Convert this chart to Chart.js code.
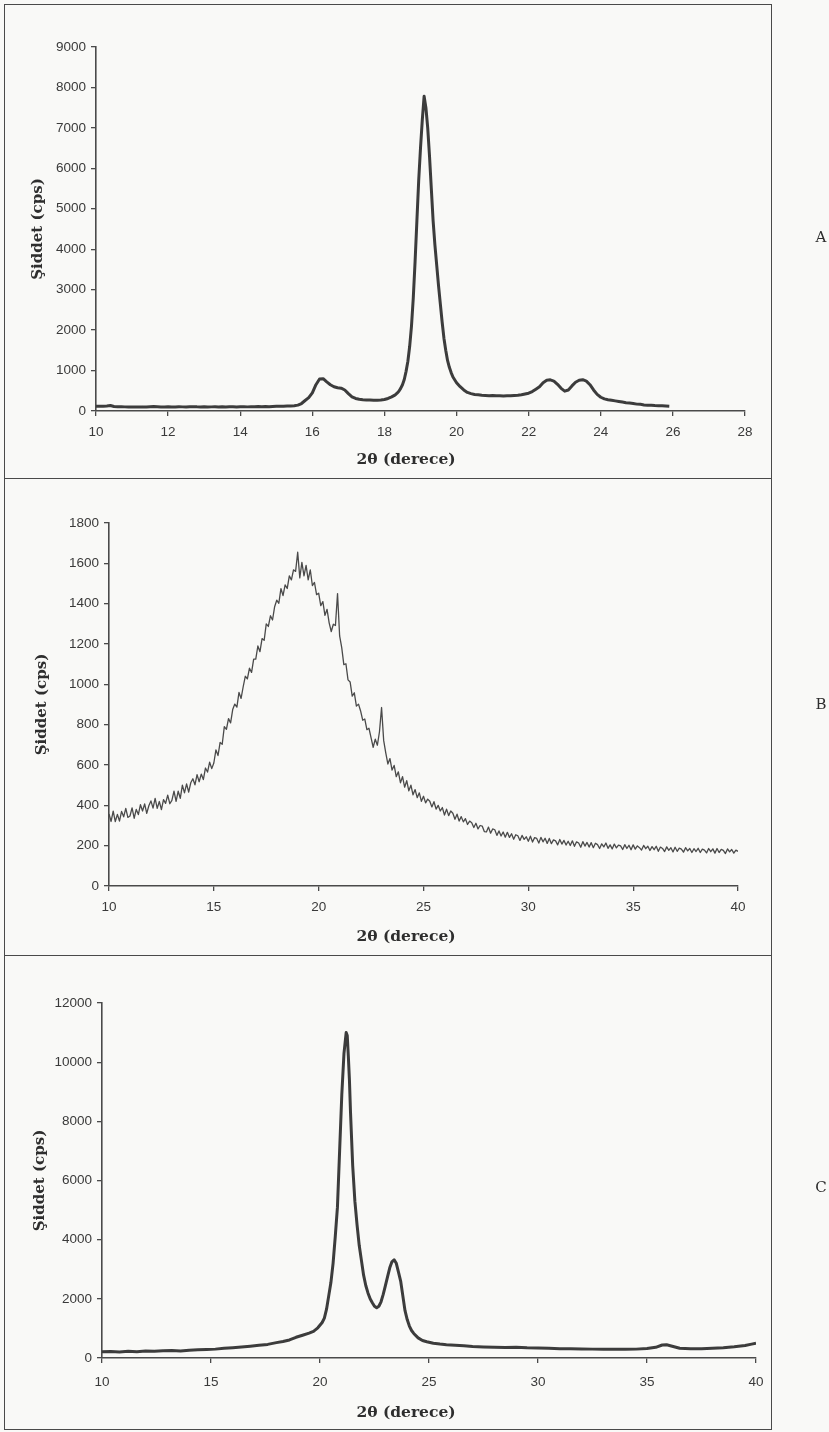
<!DOCTYPE html>
<html><head><meta charset="utf-8">
<script src="https://cdn.jsdelivr.net/npm/chart.js@4/dist/chart.umd.min.js"></script>
<style>
html,body{margin:0;padding:0;background:#f9f9f7;}
body{width:829px;height:1432px;position:relative;overflow:hidden;}
.box{position:absolute;border:1.6px solid #4a4a4a;box-sizing:border-box;}
canvas{position:absolute;left:0;}
</style></head><body>
<div class="box" style="left:4px;top:4px;width:768px;height:475px"></div>
<div class="box" style="left:4px;top:478px;width:768px;height:478px"></div>
<div class="box" style="left:4px;top:955px;width:768px;height:475px"></div>
<canvas id="cA" width="829" height="474" style="top:4px"></canvas>
<canvas id="cB" width="829" height="477" style="top:478px"></canvas>
<canvas id="cC" width="829" height="475" style="top:955px"></canvas>
<script>
// ---------- Panel A ----------
const thetaA = [10,10.1,10.2,10.3,10.4,10.5,10.6,10.7,10.8,10.9,
11,11.1,11.2,11.3,11.4,11.5,11.6,11.7,11.8,11.9,
12,12.1,12.2,12.3,12.4,12.5,12.6,12.7,12.8,12.9,
13,13.1,13.2,13.3,13.4,13.5,13.6,13.7,13.8,13.9,
14,14.1,14.2,14.3,14.4,14.5,14.6,14.7,14.8,14.9,
15,15.1,15.2,15.3,15.4,15.5,15.6,15.7,15.8,15.9,
16,16.1,16.2,16.3,16.4,16.5,16.6,16.7,16.8,16.9,
17,17.1,17.2,17.3,17.4,17.5,17.6,17.7,17.8,17.9,
18,18.1,18.2,18.3,18.35,18.4,18.45,18.5,18.55,18.6,18.65,18.7,18.75,18.8,18.85,18.9,18.95,
19,19.05,19.1,19.15,19.2,19.25,19.3,19.35,19.4,19.45,19.5,19.55,19.6,19.65,19.7,19.75,19.8,19.85,19.9,
20,20.1,20.2,20.3,20.4,20.5,20.6,20.7,20.8,20.9,
21,21.1,21.2,21.3,21.4,21.5,21.6,21.7,21.8,21.9,
22,22.1,22.2,22.3,22.4,22.5,22.6,22.7,22.8,22.9,
23,23.1,23.2,23.3,23.4,23.5,23.6,23.7,23.8,23.9,
24,24.1,24.2,24.3,24.4,24.5,24.6,24.7,24.8,24.9,
25,25.1,25.2,25.3,25.4,25.5,25.6,25.7,25.8,25.9];
const cpsA = [120,115,118,125,135,110,105,108,102,100,
98,100,97,102,99,105,110,104,98,101,
104,98,100,106,102,99,105,108,103,100,
104,99,102,107,101,104,98,103,106,100,
105,108,102,106,104,110,107,112,108,113,
115,118,120,122,125,130,145,185,260,330,
450,650,790,800,720,650,600,575,565,520,
430,350,310,290,280,275,270,265,268,272,
285,310,350,400,440,490,560,650,780,980,1230,1600,2100,2800,3700,4700,5700,
6500,7200,7780,7500,7000,6300,5500,4700,4100,3600,3100,2650,2200,1800,1500,1250,1080,950,840,
700,600,520,460,430,410,400,390,385,380,
382,375,378,372,380,376,385,390,400,420,
440,480,540,600,700,760,770,740,660,560,
490,520,620,710,760,775,740,650,520,410,
340,300,280,265,250,235,220,205,195,185,
170,165,150,145,140,135,132,128,125,120];
const xTicksA = [10,12,14,16,18,20,22,24,26,28];
const yTicksA = [0,1000,2000,3000,4000,5000,6000,7000,8000,9000];

// ---------- Panel B ----------
const thetaB = [10,10.1,10.2,10.3,10.4,10.5,10.6,10.7,10.8,10.9,
11,11.1,11.2,11.3,11.4,11.5,11.6,11.7,11.8,11.9,
12,12.1,12.2,12.3,12.4,12.5,12.6,12.7,12.8,12.9,
13,13.1,13.2,13.3,13.4,13.5,13.6,13.7,13.8,13.9,
14,14.1,14.2,14.3,14.4,14.5,14.6,14.7,14.8,14.9,
15,15.1,15.2,15.3,15.4,15.5,15.6,15.7,15.8,15.9,
16,16.1,16.2,16.3,16.4,16.5,16.6,16.7,16.8,16.9,
17,17.1,17.2,17.3,17.4,17.5,17.6,17.7,17.8,17.9,
18,18.1,18.2,18.3,18.4,18.5,18.6,18.7,18.8,18.9,
19,19.1,19.2,19.3,19.4,19.5,19.6,19.7,19.8,19.9,
20,20.1,20.2,20.3,20.4,20.5,20.6,20.7,20.8,20.9,
21,21.1,21.2,21.3,21.4,21.5,21.6,21.7,21.8,21.9,
22,22.1,22.2,22.3,22.4,22.5,22.6,22.7,22.8,22.9,
23,23.1,23.2,23.3,23.4,23.5,23.6,23.7,23.8,23.9,
24,24.1,24.2,24.3,24.4,24.5,24.6,24.7,24.8,24.9,
25,25.1,25.2,25.3,25.4,25.5,25.6,25.7,25.8,25.9,
26,26.1,26.2,26.3,26.4,26.5,26.6,26.7,26.8,26.9,
27,27.1,27.2,27.3,27.4,27.5,27.6,27.7,27.8,27.9,
28,28.1,28.2,28.3,28.4,28.5,28.6,28.7,28.8,28.9,
29,29.1,29.2,29.3,29.4,29.5,29.6,29.7,29.8,29.9,
30,30.1,30.2,30.3,30.4,30.5,30.6,30.7,30.8,30.9,
31,31.1,31.2,31.3,31.4,31.5,31.6,31.7,31.8,31.9,
32,32.1,32.2,32.3,32.4,32.5,32.6,32.7,32.8,32.9,
33,33.1,33.2,33.3,33.4,33.5,33.6,33.7,33.8,33.9,
34,34.1,34.2,34.3,34.4,34.5,34.6,34.7,34.8,34.9,
35,35.1,35.2,35.3,35.4,35.5,35.6,35.7,35.8,35.9,
36,36.1,36.2,36.3,36.4,36.5,36.6,36.7,36.8,36.9,
37,37.1,37.2,37.3,37.4,37.5,37.6,37.7,37.8,37.9,
38,38.1,38.2,38.3,38.4,38.5,38.6,38.7,38.8,38.9,
39,39.1,39.2,39.3,39.4,39.5,39.6,39.7,39.8,39.9,
40];
const cpsB = [357,320,371,319,355,322,370,343,385,340,
347,387,336,380,354,403,372,407,360,398,
422,386,434,385,419,379,428,410,451,408,
425,470,420,470,435,500,462,506,466,512,
532,502,552,517,555,528,585,565,614,582,
610,675,647,712,703,790,777,830,809,875,
902,887,960,930,988,1040,1027,1080,1059,1125,
1125,1190,1162,1227,1218,1300,1287,1340,1319,1385,
1417,1402,1475,1440,1493,1475,1538,1518,1568,1560,
1655,1528,1605,1538,1590,1518,1568,1490,1505,1445,
1452,1390,1410,1342,1372,1305,1262,1298,1292,1450,
1240,1182,1098,1102,1022,1012,942,958,892,902,
868,822,828,775,782,735,688,728,698,765,
885,722,660,605,632,575,598,542,566,512,
542,490,522,472,500,452,478,438,462,420,
445,412,431,420,392,418,381,400,372,389,
352,381,349,372,361,331,356,322,344,318,
334,305,322,314,290,311,283,300,297,270,
268,292,262,283,279,251,273,248,268,242,
266,241,259,232,254,249,226,251,231,244,
222,247,218,240,236,213,241,219,237,211,
236,210,229,224,204,231,208,226,203,222,
201,224,197,219,213,192,220,198,216,193,
215,190,212,205,186,209,194,213,187,204,
184,208,189,203,199,181,205,186,202,180,
204,183,199,190,178,201,185,197,176,195,
180,197,172,193,186,171,194,177,190,169,
192,172,188,183,168,190,174,186,166,185,
171,187,166,183,178,164,186,170,184,163,
186,166,182,177,161,184,169,181,163,178,
172];
const xTicksB = [10,15,20,25,30,35,40];
const yTicksB = [0,200,400,600,800,1000,1200,1400,1600,1800];

// ---------- Panel C ----------
const thetaC = [10,10.4,10.8,11.2,11.6,12,12.4,12.8,13.2,13.6,14,14.4,14.8,15.2,15.6,16,16.4,16.8,17.2,17.6,18,
18.3,18.6,18.9,19.2,19.5,19.7,19.9,20.1,
20.2,20.3,20.4,20.5,20.6,20.7,20.8,20.9,21,21.1,21.2,21.25,21.3,21.35,21.4,
21.5,21.6,21.7,21.8,21.9,22,22.1,22.2,22.3,22.4,22.5,22.6,22.7,22.8,22.9,
23,23.1,23.2,23.3,23.4,23.5,23.6,23.7,23.8,23.9,24,24.1,24.2,24.3,
24.5,24.7,24.9,25.2,25.5,25.8,26.2,26.6,
27,27.5,28,28.5,29,29.5,30,30.5,31,31.5,32,32.5,33,33.5,34,34.5,35,
35.4,35.7,35.9,36.2,36.5,37,37.5,38,38.5,39,39.5,39.8,40];
const cpsC = [210,220,205,225,215,235,225,245,250,240,265,275,290,300,330,350,375,400,430,460,520,
560,610,700,770,840,900,1020,1200,
1350,1650,2100,2550,3200,4100,5100,7000,8900,10300,11000,10900,10200,9400,8300,
6500,5300,4500,3800,3300,2800,2450,2200,2000,1870,1750,1700,1750,1900,2150,
2450,2750,3050,3250,3320,3200,2900,2600,2100,1600,1300,1080,930,830,
680,590,550,500,470,450,430,410,
390,375,365,355,360,345,340,330,315,310,305,300,300,295,295,300,320,
360,440,450,390,330,310,315,330,350,380,420,470,500];
const xTicksC = [10,15,20,25,30,35,40];
const yTicksC = [0,2000,4000,6000,8000,10000,12000];

const yTitle = 'Şiddet (cps)';
const xTitle = '2θ (derece)';
const panelLetters = ['A','B','C'];

// ---------- drawing ----------
function textPlugin(items){
  return {
    id:'panelText',
    afterDraw(chart){
      const ctx = chart.ctx;
      ctx.save();
      ctx.textAlign='center'; ctx.textBaseline='middle';
      for(const t of items){
        ctx.font=t.font; ctx.fillStyle=t.color;
        ctx.fillText(t.text,t.x,t.y);
      }
      ctx.restore();
    }
  };
}

function makeChart(id, theta, cps, xTicks, yTicks, L){
  const pts = theta.map((t,i)=>({x:t,y:cps[i]}));
  const axisColor = '#4a4a4a';
  const tickFont = {family:'"Liberation Sans", Arial, sans-serif', size:13.5};
  return new Chart(document.getElementById(id), {
    type:'line',
    data:{datasets:[{data:pts, borderColor:L.lineColor, borderWidth:L.lineWidth,
      pointRadius:0, tension:0, fill:false, borderJoinStyle:'round'}]},
    options:{
      responsive:false, animation:false, events:[],
      layout:{padding:{top:L.padTop,right:L.padRight,left:0,bottom:0}},
      plugins:{legend:{display:false}, tooltip:{enabled:false}},
      scales:{
        x:{type:'linear', min:xTicks[0], max:xTicks[xTicks.length-1],
          afterBuildTicks:s=>{s.ticks = xTicks.map(v=>({value:v}));},
          afterFit:s=>{s.height=L.xAxisH;},
          ticks:{font:tickFont, color:'#3a3a3a', padding:L.xPad, maxRotation:0, autoSkip:false, callback:v=>String(v)},
          grid:{display:true, drawOnChartArea:false, drawTicks:true, tickLength:5, color:axisColor, tickColor:axisColor, lineWidth:1.3},
          border:{display:true, color:axisColor, width:1.6}
        },
        y:{type:'linear', min:yTicks[0], max:yTicks[yTicks.length-1],
          afterBuildTicks:s=>{s.ticks = yTicks.map(v=>({value:v}));},
          afterFit:s=>{s.width=L.yAxisW;},
          ticks:{font:tickFont, color:'#3a3a3a', padding:5, autoSkip:false, callback:v=>String(v)},
          grid:{display:true, drawOnChartArea:false, drawTicks:true, tickLength:5, color:axisColor, tickColor:axisColor, lineWidth:1.3},
          border:{display:true, color:axisColor, width:1.6},
          title:{display:true, text:yTitle, color:'#2e2e2e',
            font:{family:'"DejaVu Serif", serif', size:15, weight:'bold'},
            padding:{top:L.yTitlePad, bottom:0}}
        }
      }
    },
    plugins:[textPlugin([
      {text:xTitle, x:406, y:L.xTitleY, font:'bold 15.5px "DejaVu Serif", serif', color:'#2e2e2e'},
      {text:L.letter, x:821, y:L.letterY, font:'15px "DejaVu Serif", serif', color:'#2e2e2e'}
    ])]
  });
}

makeChart('cA', thetaA, cpsA, xTicksA, yTicksA,
  {padTop:43, padRight:84, xAxisH:67, yAxisW:96, xPad:8, yTitlePad:29,
   xTitleY:456, letter:panelLetters[0], letterY:234, lineColor:'#3c3c3c', lineWidth:3});
makeChart('cB', thetaB, cpsB, xTicksB, yTicksB,
  {padTop:45, padRight:91, xAxisH:69, yAxisW:109, xPad:8, yTitlePad:33,
   xTitleY:459, letter:panelLetters[1], letterY:227, lineColor:'#4a4a4a', lineWidth:1.3});
makeChart('cC', thetaC, cpsC, xTicksC, yTicksC,
  {padTop:48, padRight:73, xAxisH:72, yAxisW:102, xPad:11, yTitlePad:31,
   xTitleY:458, letter:panelLetters[2], letterY:233, lineColor:'#3c3c3c', lineWidth:3});
</script>
</body></html>
